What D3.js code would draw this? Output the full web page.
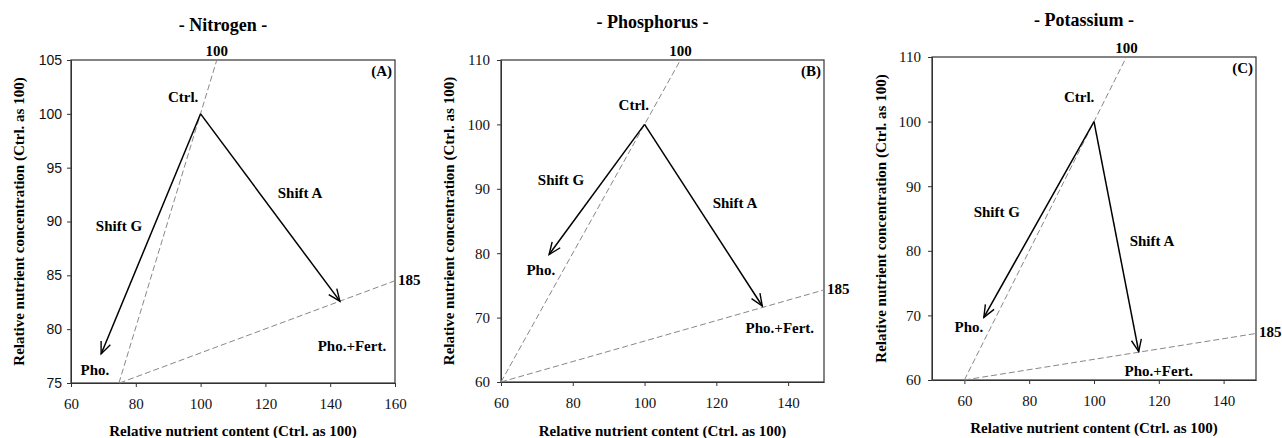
<!DOCTYPE html>
<html>
<head>
<meta charset="utf-8">
<script src="https://cdn.jsdelivr.net/npm/d3@7"></script>
<style>
  body { margin: 0; background: #fff; }
  svg { display: block; }
</style>
</head>
<body>
<div id="chart"></div>
<script>
// values
const panelTitles = ["- Nitrogen -", "- Phosphorus -", "- Potassium -"];
const panelTags = ["(A)", "(B)", "(C)"];
const xDomains = [[60, 160], [60, 150], [50, 150]];
const yDomains = [[75, 105], [60, 110], [60, 110]];
const xTickValues = [[60, 80, 100, 120, 140, 160], [60, 80, 100, 120, 140], [60, 80, 100, 120, 140]];
const yTickValues = [[75, 80, 85, 90, 95, 100, 105], [60, 70, 80, 90, 100, 110], [60, 70, 80, 90, 100, 110]];

// Ctrl. point and arrow tips (content, concentration)
const ctrlPoints = [[100, 100], [100, 100], [100, 100]];
const phoPoints = [[69.3, 77.7], [73.4, 79.8], [66, 69.7]];
const fertPoints = [[143, 82.6], [132.8, 71.8], [113.8, 64.4]];

// dashed reference lines (biomass 100 and 185)
const line100 = [[[74.8, 75], [105, 105]], [[60, 60], [110, 110]], [[60, 60], [110, 110]]];
const line185 = [[[75, 75], [160, 84.5]], [[60, 60], [150, 74.3]], [[60, 60], [150, 67.2]]];
const lineNames = ["100", "185"];

// where the annotation words sit, in data units
const annotationText = ["Ctrl.", "Shift G", "Shift A", "Pho.", "Pho.+Fert."];
const annotationSpots = [
  [[94.6, 101.6], [74.8, 89.6], [130.7, 92.7], [67.4, 76.2], [146.7, 78.5]],
  [[97, 103], [76.7, 91.4], [125.2, 87.8], [71.1, 77.5], [137.7, 68.5]],
  [[95.4, 103.8], [70, 86], [117.9, 81.5], [61.4, 68.2], [120, 61.5]]
];

const xTitle = "Relative nutrient content (Ctrl. as 100)";
const yTitle = "Relative nutrient concentration (Ctrl. as 100)";

// layout
const W = 1282, H = 438;
const boxes = [
  { left: 71, top: 60, width: 324, height: 323, titleY: 31, xTitleY: 436, yTitleX: 24 },
  { left: 501, top: 60, width: 323, height: 322, titleY: 28, xTitleY: 436, yTitleX: 454 },
  { left: 932, top: 57, width: 324, height: 323, titleY: 26, xTitleY: 433, yTitleX: 886 }
];
const serif = "'Liberation Serif', 'Times New Roman', serif";
const sans = "'Liberation Sans', Arial, sans-serif";

const svg = d3.select("#chart").append("svg")
  .attr("width", W)
  .attr("height", H);

// open arrow head
svg.append("defs").append("marker")
  .attr("id", "arrow")
  .attr("viewBox", "-14 -7 16 14")
  .attr("refX", 0)
  .attr("refY", 0)
  .attr("markerWidth", 16)
  .attr("markerHeight", 14)
  .attr("markerUnits", "userSpaceOnUse")
  .attr("orient", "auto")
  .append("path")
  .attr("d", "M-12,-5 L0,0 L-12,5")
  .attr("fill", "none")
  .attr("stroke", "#000")
  .attr("stroke-width", 1.4);

panelTitles.forEach((title, i) => {
  const b = boxes[i];
  const x = d3.scaleLinear().domain(xDomains[i]).range([0, b.width]);
  const y = d3.scaleLinear().domain(yDomains[i]).range([b.height, 0]);

  const g = svg.append("g")
    .attr("transform", `translate(${b.left},${b.top})`);

  // title
  svg.append("text")
    .attr("x", b.left + b.width / 2 - 10)
    .attr("y", b.titleY)
    .attr("text-anchor", "middle")
    .style("font-family", serif)
    .style("font-weight", "bold")
    .style("font-size", "18px")
    .text(title);

  // x axis
  const xAxis = g.append("g")
    .attr("transform", `translate(0,${b.height})`)
    .call(d3.axisBottom(x).tickValues(xTickValues[i]).tickSize(4).tickSizeOuter(0).tickPadding(11));
  xAxis.selectAll("text")
    .style("font-family", serif)
    .style("font-size", "15px")
    .attr("fill", "#111");

  // y axis
  const yAxis = g.append("g")
    .call(d3.axisLeft(y).tickValues(yTickValues[i]).tickSize(4).tickSizeOuter(0).tickPadding(i === 0 ? 5 : 7));
  yAxis.selectAll("text")
    .style("font-family", i === 0 ? sans : serif)
    .style("font-size", i === 0 ? "14px" : "15px")
    .attr("fill", "#111");

  g.selectAll(".domain").attr("stroke", "#333");
  g.selectAll(".tick line").attr("stroke", "#333");

  // frame
  g.append("rect")
    .attr("width", b.width)
    .attr("height", b.height)
    .attr("fill", "none")
    .attr("stroke", "#333")
    .attr("stroke-width", 1.2);

  // dashed lines
  const lineGen = d3.line().x(d => x(d[0])).y(d => y(d[1]));
  [line100[i], line185[i]].forEach(pts => {
    g.append("path")
      .datum(pts)
      .attr("d", lineGen)
      .attr("fill", "none")
      .attr("stroke", "#888")
      .attr("stroke-width", 1)
      .attr("stroke-dasharray", "6 3");
  });

  // 100 label above the top end, 185 label right of the right end
  const top100 = line100[i][1];
  g.append("text")
    .attr("x", x(top100[0]))
    .attr("y", y(top100[1]) - 4)
    .attr("text-anchor", "middle")
    .style("font-family", serif)
    .style("font-weight", "bold")
    .style("font-size", "15px")
    .text(lineNames[0]);
  const end185 = line185[i][1];
  g.append("text")
    .attr("x", x(end185[0]) + 3)
    .attr("y", y(end185[1]) + 4)
    .style("font-family", serif)
    .style("font-weight", "bold")
    .style("font-size", "15px")
    .text(lineNames[1]);

  // arrows
  [phoPoints[i], fertPoints[i]].forEach(tip => {
    g.append("line")
      .attr("x1", x(ctrlPoints[i][0]))
      .attr("y1", y(ctrlPoints[i][1]))
      .attr("x2", x(tip[0]))
      .attr("y2", y(tip[1]))
      .attr("stroke", "#000")
      .attr("stroke-width", 1.5)
      .attr("marker-end", "url(#arrow)");
  });

  // annotation words
  annotationText.forEach((t, k) => {
    g.append("text")
      .attr("x", x(annotationSpots[i][k][0]))
      .attr("y", y(annotationSpots[i][k][1]))
      .attr("dy", "0.35em")
      .attr("text-anchor", "middle")
      .style("font-family", serif)
      .style("font-weight", "bold")
      .style("font-size", "15px")
      .text(t);
  });

  // panel tag
  g.append("text")
    .attr("x", b.width - 3)
    .attr("y", 16)
    .attr("text-anchor", "end")
    .style("font-family", serif)
    .style("font-weight", "bold")
    .style("font-size", "15px")
    .text(panelTags[i]);

  // axis titles
  svg.append("text")
    .attr("x", b.left + b.width / 2)
    .attr("y", b.xTitleY)
    .attr("text-anchor", "middle")
    .style("font-family", serif)
    .style("font-weight", "bold")
    .style("font-size", "15px")
    .text(xTitle);

  svg.append("text")
    .attr("transform", `translate(${b.yTitleX},${b.top + b.height / 2}) rotate(-90)`)
    .attr("text-anchor", "middle")
    .style("font-family", serif)
    .style("font-weight", "bold")
    .style("font-size", "15px")
    .text(yTitle);
});
</script>
</body>
</html>
